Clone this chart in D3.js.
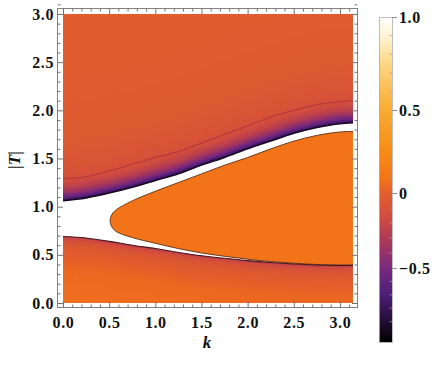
<!DOCTYPE html>
<html>
<head>
<meta charset="utf-8">
<script src="https://cdn.jsdelivr.net/npm/d3@7"></script>
<style>
    body { margin: 0; background: #fff; }
    svg { display: block; }
    text { font-family: 'Liberation Serif', 'Times New Roman', 'DejaVu Serif', serif; font-weight: bold; fill: #111; }
</style>
</head>
<body>
<div id="chart"></div>
<script>
// curves, |T| at each k
const kSamples = [0, 0.25, 0.5, 0.75, 1.0, 1.25, 1.5, 1.75, 2.0, 2.25, 2.5, 2.75, 3.0, Math.PI]
const upperEdge = [1.06, 1.09, 1.14, 1.20, 1.27, 1.34, 1.43, 1.51, 1.60, 1.68, 1.76, 1.82, 1.86, 1.87]
const contourLine = [1.29, 1.31, 1.37, 1.44, 1.51, 1.57, 1.66, 1.75, 1.84, 1.93, 2.00, 2.06, 2.09, 2.10]
const lowerEdge = [0.69, 0.675, 0.64, 0.60, 0.565, 0.525, 0.49, 0.465, 0.44, 0.42, 0.405, 0.395, 0.39, 0.39]

// the closed lobe in the middle (tip first)
const lobeTopK = [0.51, 0.53, 0.58, 0.75, 1.0, 1.25, 1.5, 1.75, 2.0, 2.25, 2.5, 2.75, 3.0, Math.PI]
const lobeTopT = [0.855, 0.92, 0.97, 1.06, 1.16, 1.25, 1.34, 1.43, 1.51, 1.60, 1.68, 1.74, 1.775, 1.78]
const lobeBotK = [0.51, 0.53, 0.58, 0.75, 1.0, 1.25, 1.5, 1.75, 2.0, 2.25, 2.5, 2.75, 3.0, Math.PI]
const lobeBotT = [0.855, 0.79, 0.74, 0.68, 0.62, 0.565, 0.52, 0.485, 0.455, 0.43, 0.413, 0.40, 0.395, 0.395]

// value of the field vs distance from the edges
const upperDist = [0, 0.015, 0.04, 0.08, 0.13, 0.2, 0.3, 0.6, 1.9]
const upperVal = [-0.95, -0.72, -0.56, -0.4, -0.26, -0.15, -0.09, -0.04, 0.0]
const lowerDist = [0, 0.012, 0.04, 0.1, 0.2, 0.35, 0.7]
const lowerVal = [-0.3, -0.2, -0.12, -0.05, 0.0, 0.04, 0.07]
const lobeVal = 0.08

// SunsetColors-like legend
const colorVals = [-1.05, -0.87, -0.69, -0.5, -0.33, -0.16, 0, 0.08, 0.25, 0.5, 0.73, 0.875, 1.0]
const colorHex = ['#000000', '#28103e', '#4e1e78', '#7a2a7e', '#a8385c', '#d04c40', '#e35e2c',
    '#f37318', '#f78c14', '#f9ab32', '#fdd27a', '#fef0c8', '#ffffff']

const axisTicks = [0, 0.5, 1.0, 1.5, 2.0, 2.5, 3.0]
const barTicks = [1, 0.5, 0, -0.5]
const barLabels = ['1.0', '0.5', '0', '\u22120.5']

const width = 443
const height = 372
const serif = "'Liberation Serif', 'Times New Roman', 'DejaVu Serif', serif"
const svg = d3.select('#chart').append('svg')
    .attr('width', width)
    .attr('height', height)
    .attr('font-family', serif)

const x = d3.scaleLinear().domain([0, Math.PI]).range([63, 353])
const y = d3.scaleLinear().domain([0, 3]).range([303, 14])
const color = d3.scaleLinear().domain(colorVals).range(colorHex).clamp(true)
const upperProfile = d3.scaleLinear().domain(upperDist).range(upperVal).clamp(true)
const lowerProfile = d3.scaleLinear().domain(lowerDist).range(lowerVal).clamp(true)

svg.append('clipPath').attr('id', 'plotClip')
    .append('rect')
    .attr('x', 63).attr('y', 14)
    .attr('width', 290).attr('height', 289)

const plot = svg.append('g').attr('clip-path', 'url(#plotClip)')

// upper region, stacked bands so the colour follows the edge
const upperBands = d3.range(0, 0.45, 0.005).concat([0.5, 0.6, 0.8, 1.0, 1.3, 1.6, 1.9])
upperBands.forEach(o => {
    const area = d3.area()
        .x((d, i) => x(kSamples[i]))
        .y0(y(3.2))
        .y1(d => y(d + o))
        .curve(d3.curveMonotoneX)
    plot.append('path')
        .datum(upperEdge)
        .attr('d', area)
        .attr('fill', color(upperProfile(o)))
})

// lower region
const lowerBands = d3.range(0, 0.5, 0.005).concat([0.6, 0.7])
lowerBands.forEach(o => {
    const area = d3.area()
        .x((d, i) => x(kSamples[i]))
        .y0(y(-0.2))
        .y1(d => y(d - o))
        .curve(d3.curveMonotoneX)
    plot.append('path')
        .datum(lowerEdge)
        .attr('d', area)
        .attr('fill', color(lowerProfile(o)))
})

// lobe
const lobePts = []
lobePts.push([3.4, lobeTopT[lobeTopT.length - 1]])
for (let i = lobeTopK.length - 1; i >= 0; i--) lobePts.push([lobeTopK[i], lobeTopT[i]])
for (let i = 1; i < lobeBotK.length; i++) lobePts.push([lobeBotK[i], lobeBotT[i]])
lobePts.push([3.4, lobeBotT[lobeBotT.length - 1]])
const lobeLine = d3.line()
    .x(d => x(d[0]))
    .y(d => y(d[1]))
    .curve(d3.curveCatmullRom)

plot.append('path')
    .attr('d', lobeLine(lobePts) + 'Z')
    .attr('fill', color(lobeVal))
    .attr('stroke', '#6b3a1c')
    .attr('stroke-width', 1)

const edgeLine = d3.line()
    .x((d, i) => x(kSamples[i]))
    .y(d => y(d))
    .curve(d3.curveMonotoneX)

plot.append('path')
    .datum(contourLine)
    .attr('d', edgeLine)
    .attr('fill', 'none')
    .attr('stroke', '#a33040')
    .attr('stroke-width', 0.8)

plot.append('path')
    .datum(upperEdge)
    .attr('d', edgeLine)
    .attr('fill', 'none')
    .attr('stroke', '#1a0820')
    .attr('stroke-width', 1.3)

plot.append('path')
    .datum(lowerEdge)
    .attr('d', edgeLine)
    .attr('fill', 'none')
    .attr('stroke', '#4a1818')
    .attr('stroke-width', 1.1)

// frame and ticks
const frame = { left: 57, right: 357, top: 8, bottom: 307 }
svg.append('rect')
    .attr('x', frame.left + 0.5).attr('y', frame.top + 0.5)
    .attr('width', frame.right - frame.left).attr('height', frame.bottom - frame.top)
    .attr('fill', 'none')
    .attr('stroke', '#808080')

const minorTicks = d3.range(0, 3.15, 0.1).filter(v => Math.abs(v * 2 - Math.round(v * 2)) > 0.01)
const fmt = d3.format('.1f')

const styleAxis = g => g
    .attr('font-family', serif)
    .call(g => g.select('.domain').remove())
    .call(g => g.selectAll('.tick line').attr('stroke', '#707070'))
    .call(g => g.selectAll('text').attr('font-size', 16).attr('fill', '#111')
        .attr('font-family', serif).attr('font-weight', 'bold').attr('letter-spacing', 0.6))

svg.append('g').attr('transform', `translate(0,${frame.bottom})`)
    .call(d3.axisBottom(x).tickValues(axisTicks).tickSize(-5).tickPadding(10).tickFormat(fmt))
    .call(styleAxis)
svg.append('g').attr('transform', `translate(0,${frame.bottom})`)
    .call(d3.axisBottom(x).tickValues(minorTicks).tickSize(-2.5).tickFormat(''))
    .call(styleAxis)
svg.append('g').attr('transform', `translate(0,${frame.top + 1})`)
    .call(d3.axisTop(x).tickValues(axisTicks).tickSize(-5).tickFormat(''))
    .call(styleAxis)
svg.append('g').attr('transform', `translate(0,${frame.top + 1})`)
    .call(d3.axisTop(x).tickValues(minorTicks).tickSize(-2.5).tickFormat(''))
    .call(styleAxis)

svg.append('g').attr('transform', `translate(${frame.left + 1},0)`)
    .call(d3.axisLeft(y).tickValues(axisTicks).tickSize(-5).tickPadding(4).tickFormat(fmt))
    .call(styleAxis)
svg.append('g').attr('transform', `translate(${frame.left + 1},0)`)
    .call(d3.axisLeft(y).tickValues(minorTicks).tickSize(-2.5).tickFormat(''))
    .call(styleAxis)
svg.append('g').attr('transform', `translate(${frame.right},0)`)
    .call(d3.axisRight(y).tickValues(axisTicks).tickSize(-5).tickFormat(''))
    .call(styleAxis)
svg.append('g').attr('transform', `translate(${frame.right},0)`)
    .call(d3.axisRight(y).tickValues(minorTicks).tickSize(-2.5).tickFormat(''))
    .call(styleAxis)

// axis titles
svg.append('text')
    .attr('x', 207).attr('y', 348)
    .attr('text-anchor', 'middle')
    .attr('font-size', 17)
    .style('font-style', 'italic')
    .text('k')

svg.append('text')
    .attr('transform', 'translate(20,160) rotate(-90)')
    .attr('text-anchor', 'middle')
    .attr('font-size', 17)
    .style('font-style', 'italic')
    .text('|T|')

// colour bar
const bar = { left: 379, right: 392, top: 17, bottom: 342 }
const barScale = d3.scaleLinear().domain([1, 0.5, 0, -0.5, -1]).range([17, 110, 193, 268, 335])

svg.append('g')
    .selectAll('rect')
    .data(d3.range(bar.top, bar.bottom))
    .join('rect')
    .attr('x', bar.left)
    .attr('y', d => d)
    .attr('width', bar.right - bar.left)
    .attr('height', 1.2)
    .attr('fill', d => color(barScale.invert(d + 0.5)))

svg.append('rect')
    .attr('x', bar.left + 0.5).attr('y', bar.top + 0.5)
    .attr('width', bar.right - bar.left).attr('height', bar.bottom - bar.top)
    .attr('fill', 'none')
    .attr('stroke', '#b0b0b0')
    .attr('stroke-width', 0.8)

svg.append('g')
    .selectAll('line')
    .data(d3.range(-1.0, 1.0, 0.1).filter(v => Math.abs(v * 2 - Math.round(v * 2)) > 0.01))
    .join('line')
    .attr('x1', bar.right - 2.5).attr('x2', bar.right)
    .attr('y1', d => barScale(d)).attr('y2', d => barScale(d))
    .attr('stroke', '#a0a0a0')
    .attr('stroke-width', 0.7)

svg.append('g')
    .selectAll('line')
    .data(barTicks)
    .join('line')
    .attr('x1', bar.right).attr('x2', bar.right + 5)
    .attr('y1', d => barScale(d) + 0.5).attr('y2', d => barScale(d) + 0.5)
    .attr('stroke', '#909090')

svg.append('g')
    .selectAll('text')
    .data(barTicks)
    .join('text')
    .attr('x', bar.right + 7)
    .attr('y', d => barScale(d))
    .attr('dy', '0.35em')
    .attr('font-size', 16)
    .attr('letter-spacing', 0.6)
    .text((d, i) => barLabels[i])
</script>
</body>
</html>
